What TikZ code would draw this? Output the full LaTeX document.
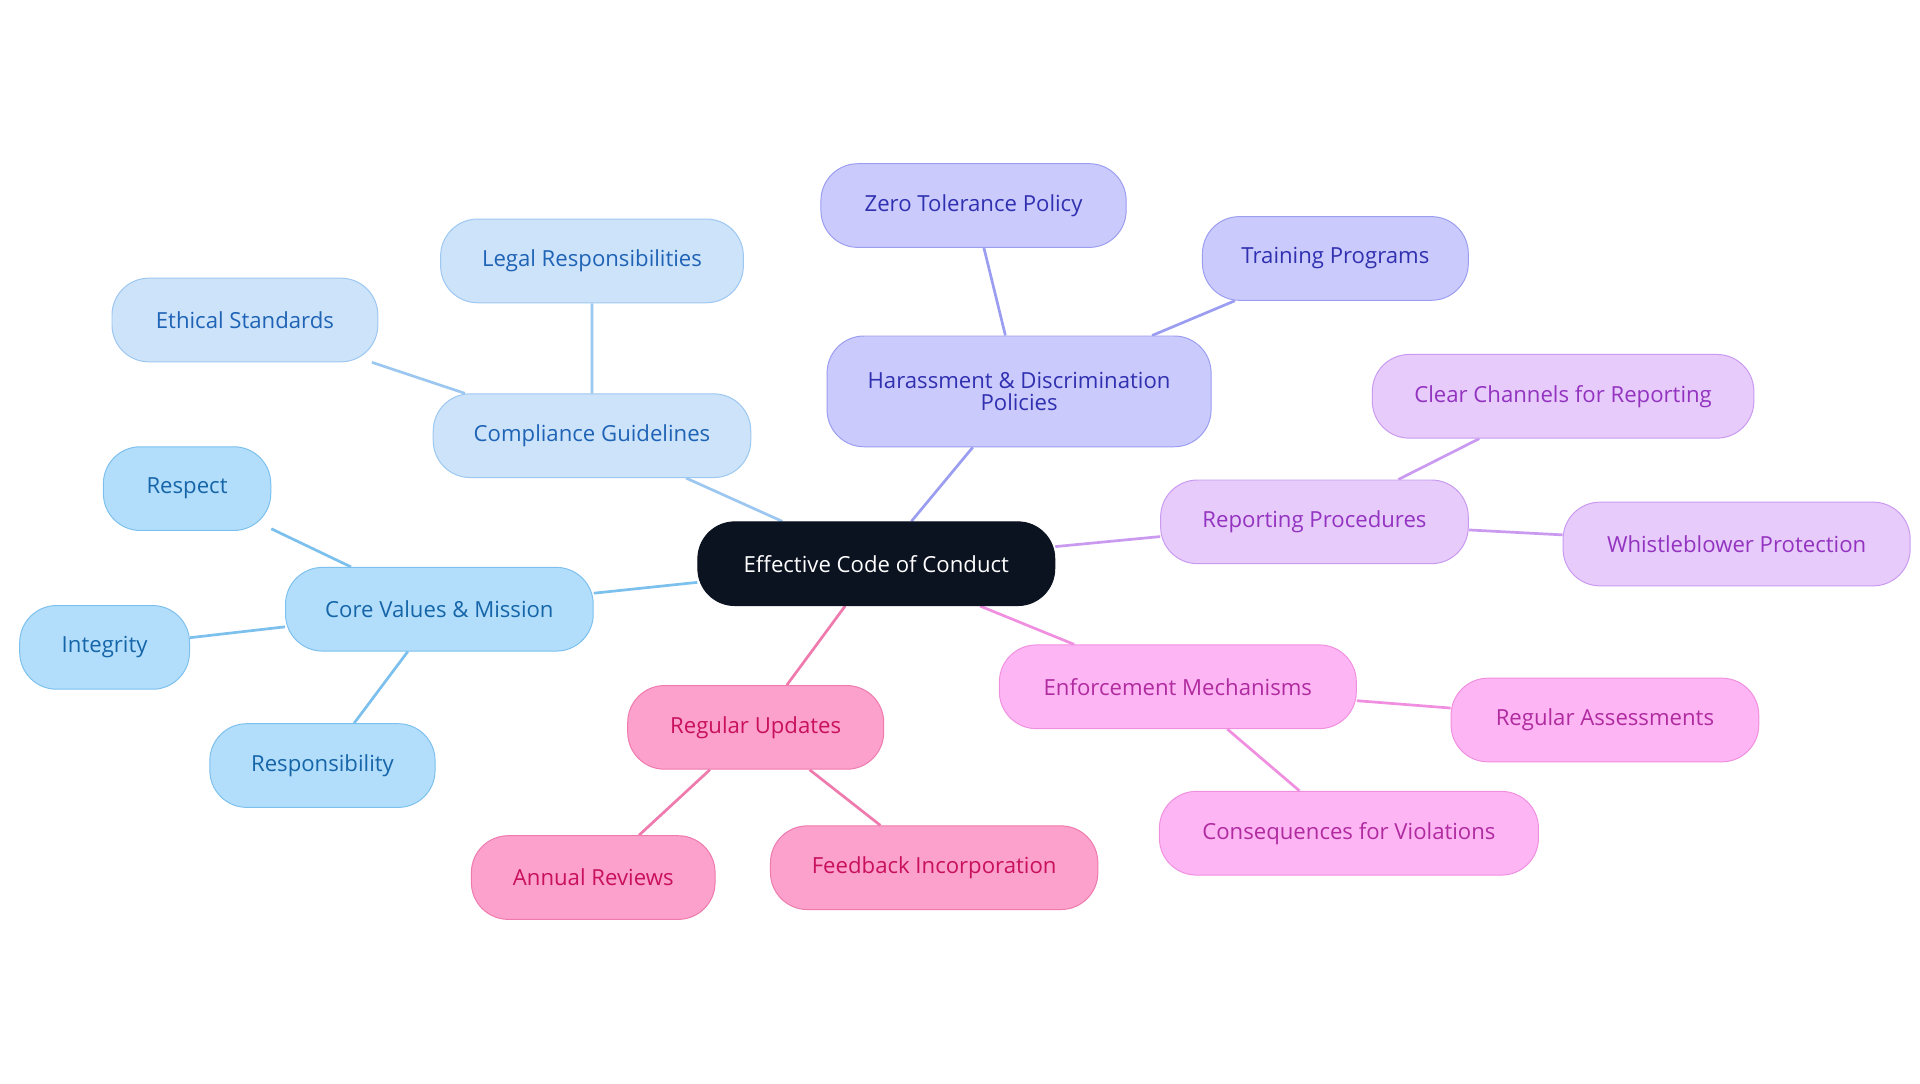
\documentclass[tikz,border=0pt]{standalone}
\usepackage{fontspec}
\setmainfont{Open Sans}
\usetikzlibrary{backgrounds}
\definecolor{cbF}{HTML}{B3DEFB}\definecolor{cbS}{HTML}{7CC0EE}\definecolor{cbT}{HTML}{1565A8}
\definecolor{ccF}{HTML}{CDE3FA}\definecolor{ccS}{HTML}{9CC7F0}\definecolor{ccT}{HTML}{1E63B5}
\definecolor{hF}{HTML}{CACBFC}\definecolor{hS}{HTML}{9B9DF0}\definecolor{hT}{HTML}{3030B0}
\definecolor{rF}{HTML}{E6CBFB}\definecolor{rS}{HTML}{C99AF0}\definecolor{rT}{HTML}{9333C0}
\definecolor{eF}{HTML}{FDB6F3}\definecolor{eS}{HTML}{F08FE0}\definecolor{eT}{HTML}{B02AA0}
\definecolor{uF}{HTML}{FCA1CB}\definecolor{uS}{HTML}{EE7AAE}\definecolor{uT}{HTML}{C8105E}
\definecolor{dark}{HTML}{0B1220}
\tikzset{
 box/.style={rectangle,rounded corners=30pt,minimum height=68pt,line width=0.8pt,font=\fontsize{18}{21}\selectfont,align=center,inner sep=0pt},
 cb/.style={box,fill=cbF,draw=cbS,text=cbT},
 cc/.style={box,fill=ccF,draw=ccS,text=ccT},
 hh/.style={box,fill=hF,draw=hS,text=hT},
 rr/.style={box,fill=rF,draw=rS,text=rT},
 ee/.style={box,fill=eF,draw=eS,text=eT},
 uu/.style={box,fill=uF,draw=uS,text=uT},
 ln/.style={line width=2.2pt}
}
\begin{document}
\begin{tikzpicture}[x=1pt,y=-1pt]
\useasboundingbox (0,0) rectangle (1560,880);
\node[box,fill=dark,draw=dark,text=white,minimum width=290pt] (c) at (712,458) {Effective Code of Conduct};
\node[cb,minimum width=250pt] (cv) at (357,495) {Core Values \& Mission};
\node[cb,minimum width=136pt] (re) at (152,397) {Respect};
\node[cb,minimum width=138pt] (in) at (85,526) {Integrity};
\node[cb,minimum width=183pt] (rs) at (262,622) {Responsibility};
\node[cc,minimum width=258pt] (cg) at (481,354) {Compliance Guidelines};
\node[cc,minimum width=246pt] (lr) at (481,212) {Legal Responsibilities};
\node[cc,minimum width=216pt] (es) at (199,260) {Ethical Standards};
\node[hh,minimum width=312pt,minimum height=90pt] (ha) at (828,318) {Harassment \& Discrimination\\[-3pt]Policies};
\node[hh,minimum width=248pt] (zt) at (791,167) {Zero Tolerance Policy};
\node[hh,minimum width=216pt] (tp) at (1085,210) {Training Programs};
\node[rr,minimum width=250pt] (rp) at (1068,424) {Reporting Procedures};
\node[rr,minimum width=310pt] (cl) at (1270,322) {Clear Channels for Reporting};
\node[rr,minimum width=282pt] (wb) at (1411,442) {Whistleblower Protection};
\node[ee,minimum width=290pt] (em) at (957,558) {Enforcement Mechanisms};
\node[ee,minimum width=250pt] (ra) at (1304,585) {Regular Assessments};
\node[ee,minimum width=308pt] (cf) at (1096,677) {Consequences for Violations};
\node[uu,minimum width=208pt] (ru) at (614,591) {Regular Updates};
\node[uu,minimum width=198pt] (ar) at (482,713) {Annual Reviews};
\node[uu,minimum width=266pt] (fi) at (759,705) {Feedback Incorporation};
\begin{scope}[on background layer]
\draw[ln,cbS] (c)--(cv) (cv)--(re) (cv)--(in) (cv)--(rs);
\draw[ln,ccS] (c)--(cg) (cg)--(lr) (cg)--(es);
\draw[ln,hS] (c)--(ha) (ha)--(zt) (ha)--(tp);
\draw[ln,rS] (c)--(rp) (rp)--(cl) (rp)--(wb);
\draw[ln,eS] (c)--(em) (em)--(ra) (em)--(cf);
\draw[ln,uS] (c)--(ru) (ru)--(ar) (ru)--(fi);
\end{scope}
\end{tikzpicture}
\end{document}
